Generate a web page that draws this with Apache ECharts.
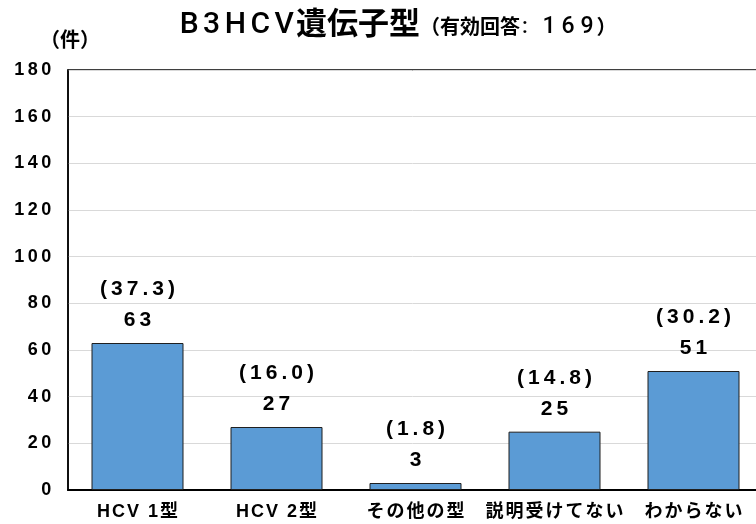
<!DOCTYPE html>
<html><head><meta charset="utf-8">
<script src="https://cdn.jsdelivr.net/npm/echarts@6/dist/echarts.min.js"></script>
<style>html,body{margin:0;padding:0;background:#fff}#c{width:756px;height:524px}</style>
</head><body><div id="c"></div>
<script>
const categories = ['HCV 1型', 'HCV 2型', 'その他の型', '説明受けてない', 'わからない'];
const counts = [63, 27, 3, 25, 51];
const percents = ['37.3', '16.0', '1.8', '14.8', '30.2'];
const yTicks = [0, 20, 40, 60, 80, 100, 120, 140, 160, 180];

const font = '"Liberation Sans", Arial, "Noto Sans CJK JP", sans-serif';
const fontMed = 'Roboto, "Liberation Sans", Arial, sans-serif';
// letter-spaced rich text: each character becomes a token of the given style
function sp(str, style) {
  return Array.from(str).map(ch => '{' + style + '|' + ch + '}').join('');
}
function st(size, gap, extra) {
  return Object.assign({fontFamily: font, fontSize: size, fontWeight: 'bold', color: '#000',
    padding: [0, gap / 2, 0, gap / 2]}, extra || {});
}
const chart = echarts.init(document.getElementById('c'));
chart.setOption({
  animation: false,
  title: {
    text: sp('B3HCV', 'a') + sp('遺伝子型', 'k') + sp('（', 'p') + sp('有効回答', 'c') +
          sp(': ', 'm') + sp('169', 'b') + sp('）', 'p'),
    left: 392, top: 5, textAlign: 'center',
    textStyle: {
      rich: {
        a: st(30, 4.5, {fontFamily: fontMed, fontWeight: 500}),
        k: st(31, 0),
        p: st(20, 0, {padding: [5, 0, 0, 0]}),
        c: st(20, 0, {padding: [5, 0, 0, 0]}),
        m: st(22, 4, {fontFamily: fontMed, fontWeight: 500, padding: [4, 2, 0, 2]}),
        b: st(23, 6, {fontFamily: fontMed, fontWeight: 500, padding: [4, 3, 0, 3]})
      }
    }
  },
  graphic: [{
    type: 'text', left: 40, top: 31,
    style: {text: '（件）', font: 'bold 20px ' + font, fill: '#000'}
  }],
  grid: {left: 68, width: 695, top: 70, bottom: 34, show: true, borderColor: '#000', borderWidth: 1.5,
    outerBoundsMode: 'none', containLabel: false},
  xAxis: {
    type: 'category', data: categories,
    axisLine: {lineStyle: {color: '#000', width: 2}},
    axisTick: {show: false},
    axisLabel: {interval: 0, margin: 13, formatter: v => sp(v, 'x'),
      rich: {x: st(18, 2)}}
  },
  yAxis: {
    type: 'value', min: 0, max: 180, interval: 20,
    axisLine: {show: true, lineStyle: {color: '#000', width: 1.5}},
    axisTick: {show: false},
    splitLine: {lineStyle: {color: '#d9d9d9', width: 1}},
    axisLabel: {margin: 15,
      formatter: v => yTicks.includes(v) ? sp(String(v), 'y') : '',
      rich: {y: st(18, 3.5)}}
  },
  series: [{
    type: 'bar', barWidth: 92,
    data: counts,
    itemStyle: {color: '#5B9BD5', borderColor: '#1f1f1f', borderWidth: 1},
    label: {
      show: true, position: 'top', distance: 7,
      formatter: p => sp('(' + percents[p.dataIndex] + ')', 'v') + '\n' + sp(String(p.value), 'v'),
      rich: {v: st(21, 4, {lineHeight: 31})}
    }
  }]
});
</script></body></html>
